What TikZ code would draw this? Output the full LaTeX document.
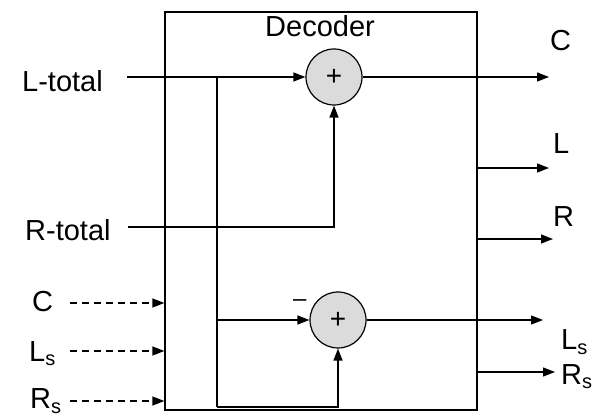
\documentclass[tikz,border=0pt]{standalone}
\usepackage{fontspec}
\setmainfont{Liberation Sans}
\usetikzlibrary{arrows.meta}
\newcommand{\subS}{\raisebox{-5pt}{\fontsize{20}{20}\selectfont s}}
\begin{document}
\begin{tikzpicture}[x=1pt,y=-1pt,
  lbl/.style={inner sep=0pt,anchor=base west,font=\fontsize{29}{32}\selectfont},
  wire/.style={line width=1.3pt},
  arr/.style={wire,-{Triangle[length=12pt,width=9pt]}},
  darr/.style={arr,dash pattern=on 7pt off 5pt},
  adder/.style={circle,draw,line width=1.2pt,fill=gray!28,minimum size=56pt,inner sep=0pt,font=\fontsize{28}{28}\selectfont}]
\useasboundingbox (0,0) rectangle (594,419);
% decoder box
\node (box) [draw,line width=1.3pt,minimum width=312pt,minimum height=398pt,inner sep=0pt] at (321,211) {};
\node (dec) [lbl] at (265,37) {Decoder};
% adders
\node (add1) [adder] at (334,77) {+};
\node (add2) [adder] at (338,320) {+};
\node (minus) [lbl] at (293,307) {\fontsize{24}{24}\selectfont –};
% labels
\node (ltot) [lbl] at (22,92) {L-total};
\node (rtot) [lbl] at (25,241) {R-total};
\node (cin) [lbl] at (32,312) {C};
\node (lsin) [lbl] at (29,361) {L\subS};
\node (rsin) [lbl] at (30,408) {R\subS};
\node (cout) [lbl] at (550,51) {C};
\node (lout) [lbl] at (553,154) {L};
\node (rout) [lbl] at (553,227) {R};
\node (lsout) [lbl] at (561,349) {L\subS};
\node (rsout) [lbl] at (561,384) {R\subS};
% coordinates
\coordinate (ltS) at (127,77);
\coordinate (b1) at (217,77);
\coordinate (b2) at (217,320);
\coordinate (b3) at (217,407);
\coordinate (rtS) at (128,227);
\coordinate (cE) at (549,77);
\coordinate (lS) at (477,168);
\coordinate (lE) at (549,168);
\coordinate (rS) at (477,239);
\coordinate (rE) at (553,239);
\coordinate (lsE) at (543,320);
\coordinate (rsS) at (477,372);
\coordinate (rsE) at (555,372);
\coordinate (d1S) at (70,303);
\coordinate (d2S) at (70,351);
\coordinate (d3S) at (70,401);
% connectors
\draw[arr] (ltS) -- (add1.west);
\draw[wire] (b1) -- (b3);
\draw[arr] (b3) -| (add2.south);
\draw[arr] (b2) -- (add2.west);
\draw[arr] (rtS) -| (add1.south);
\draw[arr] (add1.east) -- (cE);
\draw[arr] (lS) -- (lE);
\draw[arr] (rS) -- (rE);
\draw[arr] (add2.east) -- (lsE);
\draw[arr] (rsS) -- (rsE);
\draw[darr] (d1S) -- (d1S -| box.west);
\draw[darr] (d2S) -- (d2S -| box.west);
\draw[darr] (d3S) -- (d3S -| box.west);
\end{tikzpicture}
\end{document}
